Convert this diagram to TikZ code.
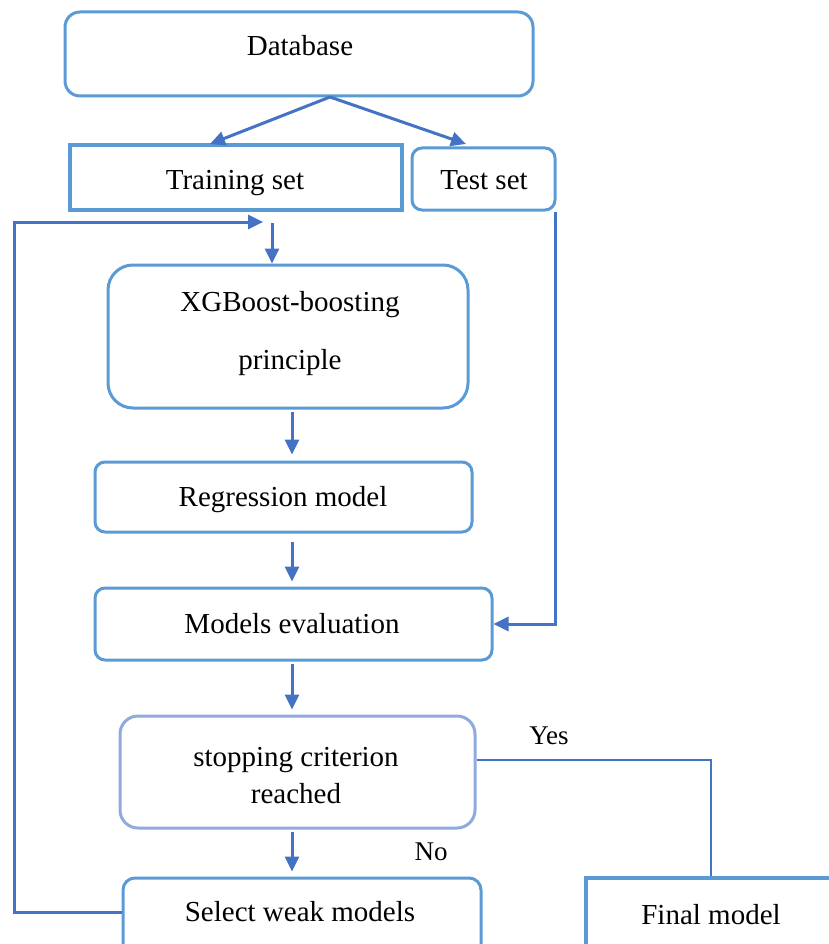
\documentclass[tikz,border=0pt]{standalone}
\usepackage{fontspec}
\setmainfont{Liberation Serif}
\usetikzlibrary{arrows.meta}
\definecolor{boxblue}{RGB}{91,155,213}
\definecolor{arrowblue}{RGB}{68,114,196}
\definecolor{paleblue}{RGB}{143,170,220}
\begin{document}
\begin{tikzpicture}[x=1pt,y=-1pt,
  box/.style={draw=boxblue, line width=3pt, rounded corners=#1, inner sep=0pt},
  box/.default=10pt,
  sqbox/.style={draw=boxblue, line width=4.5pt, inner sep=0pt},
  txt/.style={inner sep=0pt, font=\fontsize{29}{34}\selectfont, align=center},
  lbl/.style={inner sep=0pt, font=\fontsize{27}{30}\selectfont},
  arr/.style={draw=arrowblue, line width=3pt, -{Triangle[length=15pt,width=14pt]}},
  link/.style={draw=arrowblue, line width=2pt}]
\useasboundingbox (0,0) rectangle (828,944);

% boxes
\node[box=15pt, minimum width=468pt, minimum height=84pt] (db) at (299,54) {};
\node[sqbox, minimum width=332pt, minimum height=65pt] (train) at (236,177.5) {};
\node[box, minimum width=143pt, minimum height=62pt] (test) at (483.5,179) {};
\node[box=25pt, minimum width=360pt, minimum height=143pt] (xgb) at (288,336.5) {};
\node[box, minimum width=377pt, minimum height=70pt] (reg) at (283.5,497) {};
\node[box, minimum width=397pt, minimum height=72pt] (eval) at (293.5,624) {};
\node[box=18pt, draw=paleblue, minimum width=355pt, minimum height=112pt] (stop) at (297.5,772) {};
\node[box=12pt, minimum width=358pt, minimum height=100pt] (sel) at (302,928) {};
\node[sqbox, line width=4pt, minimum width=264pt, minimum height=92pt] (final) at (718,924) {};

% box texts
\node[txt] (dbt) at (300,46) {Database};
\node[txt] (traint) at (235,183.5) {Training set};
\node[txt] (testt) at (484,180) {Test set};
\node[txt, font=\fontsize{29}{58}\selectfont] (xgbt) at (290,334) {XGBoost-boosting\\principle};
\node[txt] (regt) at (283,500) {Regression model};
\node[txt] (evalt) at (292,624) {Models evaluation};
\node[txt, font=\fontsize{29}{37}\selectfont] (stopt) at (296,776) {stopping criterion\\reached};
\node[txt] (selt) at (300,912) {Select weak models};
\node[txt] (finalt) at (711,915) {Final model};

% labels
\node[lbl] (yes) at (549,736) {Yes};
\node[lbl] (no) at (431,852) {No};

% helper points
\coordinate (split) at (330,97);
\coordinate (ltip) at (210,144);
\coordinate (rtip) at (466,144);
\coordinate (ax) at (292,0);
\coordinate (tin) at (272,223);
\coordinate (loopend) at (263,222);
\coordinate (yy) at (0,760);
\coordinate (fx) at (711,0);

% connectors
\draw[arr] (split) -- (ltip);
\draw[arr] (split) -- (rtip);
\draw[arr] ([xshift=-1.5pt]test.south east) |- (eval.east);
\draw[arr] (tin) -- (xgb.north -| tin);
\draw[arr] (selt -| sel.west) -- ++(-107,0) |- (loopend);
\draw[arr, shorten <=2pt, shorten >=6pt] (xgb.south -| ax) -- (reg.north -| ax);
\draw[arr, shorten <=8pt, shorten >=5pt] (reg.south -| ax) -- (eval.north -| ax);
\draw[arr, shorten <=2pt, shorten >=5pt] (eval.south -| ax) -- (stop.north -| ax);
\draw[arr, shorten <=2pt, shorten >=5pt] (stop.south -| ax) -- (sel.north -| ax);
\draw[link] (stop.east |- yy) -| (final.north -| fx);
\end{tikzpicture}
\end{document}
